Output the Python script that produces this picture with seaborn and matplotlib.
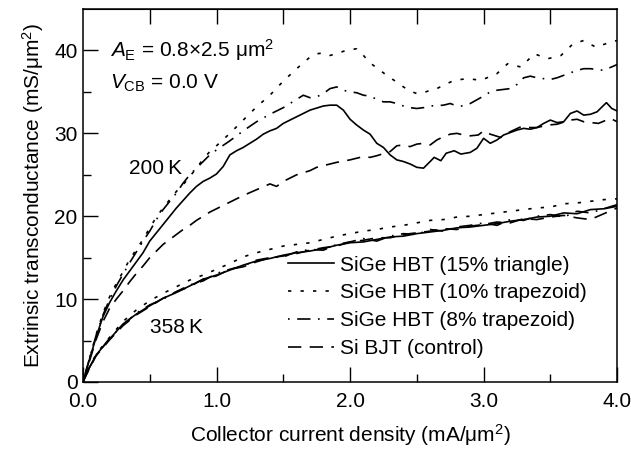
import numpy as np
import pandas as pd
import matplotlib
matplotlib.use("Agg")
import matplotlib.pyplot as plt
import seaborn as sns

# ---------------- data ----------------
# 200 K curves
x_tri_200 = [0, 0.05, 0.1, 0.15, 0.2, 0.25, 0.3, 0.35, 0.4, 0.45, 0.5, 0.55, 0.6, 0.65, 0.7, 0.75,
             0.8, 0.85, 0.9, 0.95, 1.0, 1.05, 1.1, 1.15, 1.2, 1.25, 1.3, 1.35, 1.4, 1.45, 1.5, 1.6,
             1.7, 1.8, 1.85, 1.9, 1.95, 2.0, 2.05, 2.1, 2.15, 2.2, 2.25, 2.3, 2.35, 2.4, 2.45, 2.5,
             2.55, 2.6, 2.63, 2.68, 2.72, 2.78, 2.83, 2.9, 2.95, 3.0, 3.05, 3.1, 3.15, 3.2, 3.25,
             3.3, 3.35, 3.4, 3.45, 3.5, 3.55, 3.6, 3.65, 3.7, 3.75, 3.8, 3.85, 3.9, 3.92, 3.96, 4.0]
y_tri_200 = [0, 2.8, 5.5, 7.9, 9.6, 11.0, 12.3, 13.4, 14.5, 15.6, 17.0, 18.0, 19.0, 20.0, 21.0, 21.9,
             22.8, 23.6, 24.2, 24.6, 25.1, 26.0, 27.4, 27.9, 28.3, 28.8, 29.3, 29.9, 30.3, 30.6, 31.2, 32.0,
             32.8, 33.3, 33.4, 33.4, 32.8, 31.7, 31.0, 30.4, 29.9, 28.8, 28.3, 27.4, 26.8, 26.6, 26.3, 25.9,
             25.8, 26.6, 27.1, 26.7, 27.6, 27.9, 27.5, 27.7, 28.2, 29.4, 28.8, 29.2, 29.8, 30.1, 30.4,
             30.6, 30.5, 30.7, 31.2, 31.6, 31.3, 31.4, 32.4, 32.7, 32.2, 32.3, 32.6, 33.4, 33.7, 33.0, 32.7]

x_trap10_200 = [0, 0.05, 0.1, 0.15, 0.2, 0.25, 0.3, 0.35, 0.4, 0.45, 0.5, 0.55, 0.6, 0.65, 0.7, 0.75,
                0.8, 0.85, 0.9, 0.95, 1.0, 1.1, 1.2, 1.3, 1.4, 1.5, 1.6, 1.7, 1.75, 1.8, 1.85, 1.9,
                1.95, 2.0, 2.05, 2.1, 2.15, 2.2, 2.25, 2.3, 2.35, 2.4, 2.45, 2.5, 2.55, 2.6, 2.65,
                2.7, 2.78, 2.88, 2.98, 3.1, 3.18, 3.28, 3.38, 3.48, 3.58, 3.67, 3.75, 3.84, 3.95, 4.0]
y_trap10_200 = [0, 2.9, 5.8, 8.3, 10.3, 11.9, 13.3, 14.8, 16.0, 17.2, 18.6, 19.9, 21.0, 22.0, 23.0, 23.8,
                24.8, 25.8, 26.9, 27.8, 28.5, 30.0, 31.6, 33.2, 34.6, 36.3, 37.8, 39.2, 39.6, 39.7, 39.4, 39.6,
                39.9, 40.1, 40.2, 39.4, 38.5, 37.9, 37.3, 36.7, 36.2, 35.6, 35.1, 34.8, 34.9, 35.2, 35.4,
                35.8, 36.4, 36.6, 36.4, 37.2, 38.4, 38.0, 39.6, 39.0, 39.4, 40.8, 41.2, 40.4, 41.0, 41.2]

x_trap8_200 = [0, 0.05, 0.1, 0.15, 0.2, 0.25, 0.3, 0.35, 0.4, 0.45, 0.5, 0.55, 0.6, 0.65, 0.7, 0.75,
               0.8, 0.85, 0.9, 0.95, 1.0, 1.1, 1.2, 1.3, 1.4, 1.5, 1.6, 1.65, 1.7, 1.75, 1.8, 1.85,
               1.9, 1.95, 2.0, 2.05, 2.1, 2.15, 2.2, 2.25, 2.3, 2.35, 2.4, 2.45, 2.5, 2.55, 2.6, 2.7,
               2.75, 2.8, 2.85, 2.9, 3.0, 3.05, 3.1, 3.15, 3.2, 3.25, 3.3, 3.35, 3.4, 3.5, 3.55, 3.6,
               3.7, 3.75, 3.8, 3.85, 3.9, 4.0]
y_trap8_200 = [0, 2.9, 5.7, 8.1, 10.0, 11.6, 13.0, 14.4, 15.7, 17.0, 18.2, 19.6, 20.8, 21.8, 22.8, 24.0,
               25.0, 25.8, 26.6, 27.4, 28.0, 29.1, 30.3, 31.4, 32.3, 33.1, 34.1, 34.6, 34.3, 34.4, 34.8, 35.4,
               35.6, 35.2, 35.0, 34.9, 34.6, 34.5, 34.1, 33.8, 33.8, 33.6, 33.3, 33.1, 33.0, 33.1, 33.3, 33.4,
               33.6, 33.3, 33.3, 33.6, 34.5, 35.0, 35.2, 35.3, 35.4, 35.9, 36.7, 36.9, 36.7, 36.5, 36.7, 37.0,
               37.6, 37.8, 37.8, 37.7, 37.6, 38.3]

x_bjt_200 = [0, 0.05, 0.1, 0.15, 0.2, 0.25, 0.3, 0.35, 0.4, 0.45, 0.5, 0.55, 0.6, 0.65, 0.7, 0.75,
             0.8, 0.85, 0.9, 0.95, 1.0, 1.1, 1.2, 1.3, 1.4, 1.45, 1.5, 1.6, 1.7, 1.75, 1.8, 1.9,
             2.0, 2.1, 2.15, 2.2, 2.3, 2.35, 2.4, 2.45, 2.5, 2.55, 2.6, 2.65, 2.7, 2.75, 2.8, 2.85,
             2.9, 2.96, 3.0, 3.05, 3.13, 3.2, 3.28, 3.35, 3.4, 3.48, 3.55, 3.65, 3.7, 3.75, 3.86,
             3.95, 4.0]
y_bjt_200 = [0, 2.6, 5.2, 7.3, 8.9, 10.0, 11.0, 12.1, 13.1, 14.0, 15.0, 15.8, 16.6, 17.2, 17.8, 18.4,
             18.9, 19.5, 20.0, 20.5, 20.9, 21.7, 22.5, 23.2, 23.9, 23.6, 24.2, 25.0, 25.5, 25.9, 26.1, 26.5,
             26.8, 27.2, 27.1, 27.3, 27.8, 28.5, 28.6, 28.4, 28.7, 28.8, 28.6, 29.2, 29.6, 29.9, 30.0, 29.8,
             29.7, 29.8, 30.3, 29.9, 29.5, 30.2, 30.8, 30.7, 30.7, 31.0, 31.1, 31.6, 31.7, 31.4, 31.2,
             31.8, 31.4]

# 358 K curves
x_358 = [0, 0.05, 0.1, 0.2, 0.3, 0.4, 0.5, 0.6, 0.7, 0.8, 0.9, 1.0, 1.1, 1.2, 1.3, 1.4, 1.5, 1.6,
         1.7, 1.8, 1.9, 2.0, 2.1, 2.2, 2.3, 2.4, 2.5, 2.6, 2.7, 2.8, 2.9, 3.0, 3.1, 3.2, 3.3, 3.4,
         3.5, 3.6, 3.7, 3.8, 3.9, 4.0]
y_tri_358 = [0, 1.8, 3.3, 5.2, 7.0, 8.2, 9.2, 10.1, 10.8, 11.6, 12.4, 12.9, 13.5, 14.1, 14.6, 14.9,
             15.3, 15.6, 15.8, 16.1, 16.5, 16.8, 16.9, 17.2, 17.5, 17.6, 17.9, 18.1, 18.3, 18.6, 18.7,
             18.9, 19.1, 19.4, 19.6, 19.9, 20.0, 20.4, 20.3, 20.8, 20.9, 21.2]
y_trap10_358 = [0, 1.9, 3.4, 5.4, 7.3, 8.7, 9.8, 10.7, 11.5, 12.3, 12.9, 13.6, 14.3, 15.1, 15.6, 16.0,
                16.4, 16.6, 16.8, 17.2, 17.6, 17.9, 18.2, 18.4, 18.7, 18.9, 19.2, 19.5, 19.6, 19.9, 20.0,
                20.2, 20.4, 20.6, 20.8, 21.0, 21.1, 21.5, 21.6, 21.8, 22.0, 22.1]
y_trap8_358 = [0, 1.8, 3.2, 5.3, 6.9, 8.3, 9.3, 10.0, 10.9, 11.7, 12.2, 13.1, 13.6, 14.0, 14.7, 15.0,
               15.1, 15.7, 16.0, 15.9, 16.6, 16.9, 17.3, 17.0, 17.6, 17.9, 17.8, 18.4, 18.2, 18.7, 18.9,
               19.2, 18.9, 19.6, 19.5, 20.0, 20.2, 19.9, 20.6, 20.4, 20.9, 21.4]
y_bjt_358 = [0, 1.7, 3.2, 5.1, 6.8, 8.1, 9.1, 10.1, 10.9, 11.5, 12.4, 12.8, 13.6, 13.9, 14.5, 15.0,
             15.2, 15.5, 15.9, 16.2, 16.4, 16.9, 17.1, 17.4, 17.4, 17.8, 18.0, 18.2, 18.5, 18.4, 18.8,
             19.0, 19.3, 19.2, 19.7, 19.6, 19.9, 20.1, 19.8, 19.6, 20.3, 21.0]

labels = ["SiGe HBT (15% triangle)", "SiGe HBT (10% trapezoid)",
          "SiGe HBT (8% trapezoid)", "Si BJT (control)"]
x_ticks = [0.0, 1.0, 2.0, 3.0, 4.0]
y_ticks = [0, 10, 20, 30, 40]

# ---------------- style ----------------
plt.rcParams['font.family'] = ['Liberation Sans', 'DejaVu Sans']
plt.rcParams['mathtext.fontset'] = 'custom'
plt.rcParams['mathtext.rm'] = 'Liberation Sans'
plt.rcParams['mathtext.it'] = 'Liberation Sans:italic'
FS = 15

fig = plt.figure(figsize=(6.31, 4.51), dpi=100)
ax = fig.add_axes([0.1315, 0.153, 0.8465, 0.827])

styles = ['-', (0, (2.0, 5.5)), (0, (1.0, 4.5, 8.0, 4.5)), (0, (8.0, 5.0))]
series_200 = [(x_tri_200, y_tri_200), (x_trap10_200, y_trap10_200),
              (x_trap8_200, y_trap8_200), (x_bjt_200, y_bjt_200)]
series_358 = [y_tri_358, y_trap10_358, y_trap8_358, y_bjt_358]

handles = []
for (xs, ys), ys358, ls, lab in zip(series_200, series_358, styles, labels):
    sns.lineplot(x=xs, y=ys, ax=ax, color='black', lw=1.2, linestyle=ls,
                 sort=False, estimator=None)
    sns.lineplot(x=x_358, y=ys358, ax=ax, color='black', lw=1.2, linestyle=ls,
                 sort=False, estimator=None)
    handles.append(plt.Line2D([], [], color='black', lw=1.2, linestyle=ls, label=lab))

ax.set_xlim(0, 4.0)
ax.set_ylim(0, 45)
ax.set_xticks(x_ticks)
ax.set_xticklabels([f"{v:.1f}" for v in x_ticks])
ax.set_yticks(y_ticks)
ax.set_xticks(np.arange(0.5, 4.0, 1.0), minor=True)
ax.set_yticks(np.arange(5, 45, 10), minor=True)
ax.tick_params(which='major', direction='in', length=10.8, width=1.0, labelsize=FS)
ax.tick_params(which='minor', direction='in', length=5.8, width=1.0)
ax.tick_params(axis='x', which='major', pad=7)
ax.tick_params(axis='y', which='major', pad=4)
for sp in ax.spines.values():
    sp.set_linewidth(1.1)

top = ax.secondary_xaxis('top')
top.set_xticks(np.arange(0.5, 4.0, 0.5))
top.tick_params(direction='in', length=10.8, width=1.0, labeltop=False)
top.set_xticklabels([])

ax.set_xlabel("Collector current density (mA/\u03bcm$^2$)", fontsize=FS, labelpad=8)
ax.set_ylabel("Extrinsic transconductance (mS/\u03bcm$^2$)", fontsize=FS, labelpad=6)

ax.text(0.2, 40.0, "$A_\\mathrm{E}$ = 0.8\u00d72.5 \u03bcm$^2$", fontsize=FS, va='center', ha='left')
ax.text(0.2, 36.0, "$V_\\mathrm{CB}$ = 0.0 V", fontsize=FS, va='center', ha='left')
ax.text(0.54, 25.8, "200\u2009K", fontsize=FS, va='center', ha='center')
ax.text(0.70, 6.6, "358\u2009K", fontsize=FS, va='center', ha='center')

ax.legend(handles=handles, loc='upper left', bbox_to_anchor=(0.384, 0.339),
          frameon=False, fontsize=FS, handlelength=2.2, handletextpad=0.3,
          labelspacing=0.42, borderaxespad=0, borderpad=0)

fig.savefig("out.png", dpi=100)
